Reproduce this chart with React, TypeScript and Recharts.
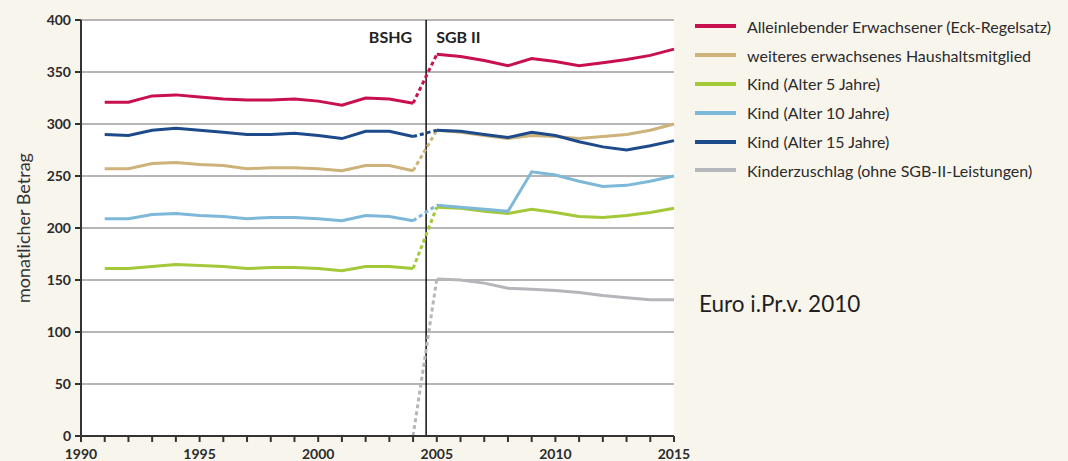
import React from 'react';
import {
  LineChart,
  Line,
  XAxis,
  YAxis,
  CartesianGrid,
  ReferenceLine,
} from 'recharts';

const years = [
  1991, 1992, 1993, 1994, 1995, 1996, 1997, 1998, 1999, 2000, 2001, 2002, 2003, 2004,
  2005, 2006, 2007, 2008, 2009, 2010, 2011, 2012, 2013, 2014, 2015,
];

// monthly amounts, Euro in 2010 prices
const alleinlebend = [
  321, 321, 327, 328, 326, 324, 323, 323, 324, 322, 318, 325, 324, 320,
  367, 365, 361, 356, 363, 360, 356, 359, 362, 366, 372,
];
const haushaltsmitglied = [
  257, 257, 262, 263, 261, 260, 257, 258, 258, 257, 255, 260, 260, 255,
  294, 292, 289, 286, 289, 288, 286, 288, 290, 294, 300,
];
const kind5 = [
  161, 161, 163, 165, 164, 163, 161, 162, 162, 161, 159, 163, 163, 161,
  220, 219, 216, 214, 218, 215, 211, 210, 212, 215, 219,
];
const kind10 = [
  209, 209, 213, 214, 212, 211, 209, 210, 210, 209, 207, 212, 211, 207,
  222, 220, 218, 216, 254, 251, 245, 240, 241, 245, 250,
];
const kind15 = [
  290, 289, 294, 296, 294, 292, 290, 290, 291, 289, 286, 293, 293, 288,
  294, 293, 290, 287, 292, 289, 283, 278, 275, 279, 284,
];
const kinderzuschlag = [
  null, null, null, null, null, null, null, null, null, null, null, null, null, 0,
  151, 150, 147, 142, 141, 140, 138, 135, 133, 131, 131,
];

const series = [
  { key: 'alleinlebend', name: 'Alleinlebender Erwachsener (Eck-Regelsatz)', color: '#c8104e', values: alleinlebend },
  { key: 'haushalt', name: 'weiteres erwachsenes Haushaltsmitglied', color: '#cdb27a', values: haushaltsmitglied },
  { key: 'kind5', name: 'Kind (Alter 5 Jahre)', color: '#a3c838', values: kind5 },
  { key: 'kind10', name: 'Kind (Alter 10 Jahre)', color: '#7db8d8', values: kind10 },
  { key: 'kind15', name: 'Kind (Alter 15 Jahre)', color: '#1c4a8a', values: kind15 },
  { key: 'kinderzuschlag', name: 'Kinderzuschlag (ohne SGB-II-Leistungen)', color: '#b4b6b9', values: kinderzuschlag },
];

const lastBshgYear = 2004;
const reformYear = 2004.55;
const yTicks = [0, 50, 100, 150, 200, 250, 300, 350, 400];
const xTicks = Array.from({ length: 26 }, (_, i) => 1990 + i);

// split every series into BSHG part, SGB II part and the dotted bridge
const data = years.map((year, i) => {
  const row: Record<string, number | null> = { year };
  series.forEach((s) => {
    const v = s.values[i];
    row[`${s.key}_a`] = year <= lastBshgYear ? v : null;
    row[`${s.key}_b`] = year > lastBshgYear ? v : null;
    row[`${s.key}_c`] = year === lastBshgYear || year === lastBshgYear + 1 ? v : null;
  });
  return row;
});

const FONT = 'Lato, "Open Sans", sans-serif';
const tickStyle = { fontSize: 14, fill: '#2b2b2b', fontFamily: FONT, fontWeight: 700 };

const PhaseLabels = (props: any) => {
  const { viewBox } = props;
  const x = viewBox.x;
  const y = viewBox.y;
  return (
    <g fontFamily={FONT} fontSize={16} fontWeight={700} fill="#222">
      <text x={x - 14} y={y + 23} textAnchor="end">BSHG</text>
      <text x={x + 10} y={y + 23} textAnchor="start">SGB II</text>
    </g>
  );
};

export default function App() {
  return (
    <div
      style={{
        position: 'absolute',
        left: 0,
        top: 0,
        width: 1068,
        height: 461,
        background: '#f8f5ed',
        fontFamily: FONT,
        overflow: 'hidden',
      }}
    >
      <LineChart
        width={1068}
        height={461}
        data={data}
        margin={{ top: 20, right: 394, bottom: 0, left: 0 }}
      >
        <CartesianGrid
          horizontal
          vertical={false}
          fill="#ffffff"
          fillOpacity={1}
          stroke="#b5b5b5"
          strokeWidth={2}
        />
        <XAxis
          dataKey="year"
          type="number"
          domain={[1990, 2015]}
          ticks={xTicks}
          interval={0}
          height={25}
          tickSize={6}
          tickMargin={7}
          tickFormatter={(v: number) => (v % 5 === 0 ? String(v) : '')}
          tick={tickStyle}
          axisLine={{ stroke: '#333', strokeWidth: 2 }}
          tickLine={{ stroke: '#333', strokeWidth: 2 }}
        />
        <YAxis
          type="number"
          domain={[0, 400]}
          ticks={yTicks}
          width={81}
          tickSize={6}
          tickMargin={4}
          tick={tickStyle}
          axisLine={{ stroke: '#333', strokeWidth: 2 }}
          tickLine={{ stroke: '#333', strokeWidth: 2 }}
          label={{
            value: 'monatlicher Betrag',
            angle: -90,
            position: 'insideLeft',
            offset: 24,
            style: { textAnchor: 'middle', fontSize: 18, fill: '#333', fontFamily: FONT },
          }}
        />
        <ReferenceLine
          x={reformYear}
          stroke="#111"
          strokeWidth={1.5}
          label={{ content: PhaseLabels }}
        />
        {series.map((s) => [
          <Line
            key={`${s.key}_a`}
            dataKey={`${s.key}_a`}
            type="linear"
            stroke={s.color}
            strokeWidth={3}
            dot={false}
            activeDot={false}
            isAnimationActive={false}
          />,
          <Line
            key={`${s.key}_c`}
            dataKey={`${s.key}_c`}
            type="linear"
            stroke={s.color}
            strokeWidth={3}
            strokeDasharray="4 3"
            dot={false}
            activeDot={false}
            isAnimationActive={false}
          />,
          <Line
            key={`${s.key}_b`}
            dataKey={`${s.key}_b`}
            type="linear"
            stroke={s.color}
            strokeWidth={3}
            dot={false}
            activeDot={false}
            isAnimationActive={false}
          />,
        ])}
      </LineChart>

      {/* legend */}
      <div style={{ position: 'absolute', left: 695, top: 12 }}>
        {series.map((s) => (
          <div
            key={s.key}
            style={{ display: 'flex', alignItems: 'center', height: 28.8 }}
          >
            <span
              style={{
                display: 'inline-block',
                width: 41,
                height: 4,
                background: s.color,
                marginRight: 11,
              }}
            />
            <span style={{ fontSize: 16, color: '#2b2b2b', whiteSpace: 'nowrap' }}>
              {s.name}
            </span>
          </div>
        ))}
      </div>

      <div
        style={{
          position: 'absolute',
          left: 699,
          top: 290,
          fontSize: 22.5,
          color: '#1f1f1f',
          whiteSpace: 'nowrap',
        }}
      >
        Euro i.Pr.v. 2010
      </div>
    </div>
  );
}
